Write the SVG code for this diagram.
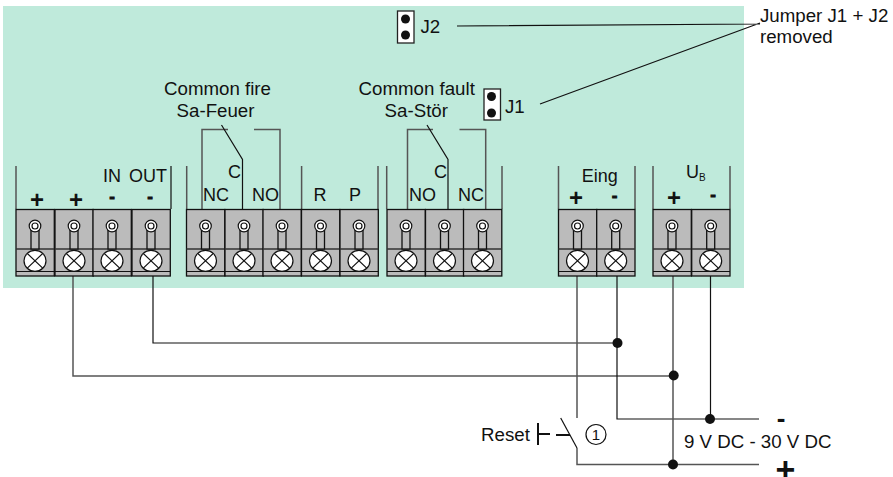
<svg xmlns="http://www.w3.org/2000/svg" xmlns:xlink="http://www.w3.org/1999/xlink" width="893" height="477" viewBox="0 0 893 477">
<style>
text{font-family:"Liberation Sans",Arial,sans-serif;font-size:18.700px;fill:#111}
.l{font-size:18px}
.m{text-anchor:middle}
.b{font-size:24px;font-weight:bold}
.n{font-size:17px;font-weight:bold;stroke:#111;stroke-width:0.800}
.w{fill:none;stroke:#111;stroke-width:1.2}
.g{fill:none;stroke:#555;stroke-width:1.5}
.f{fill:#bbb;stroke:#111;stroke-width:1.3}
.r{stroke:#333;stroke-width:1.5;fill:none}
.s{fill:#fff;stroke:#111;stroke-width:1.2}
.j{fill:#fff;stroke:#222;stroke-width:1.3}
</style>
<defs>
<g id="t">
<rect class="f" x="0" y="0" width="38.300" height="66.500"/>
<line class="r" x1="0" y1="39.500" x2="38.300" y2="39.500"/>
<line class="w" x1="0" y1="62" x2="38.300" y2="62"/>
<rect class="f" x="15" y="21" width="8" height="18.500"/>
<circle class="s" cx="19" cy="16.500" r="5.800"/>
<circle class="s" cx="19" cy="16.500" r="3"/>
<ellipse class="s" cx="19" cy="51.300" rx="11" ry="10.500"/>
<path class="w" d="M11.300 44 L26.700 58.600 M26.700 44 L11.300 58.600"/>
</g>
</defs>
<rect id="board" x="3" y="6" width="741" height="282" fill="#bfeadb"/>
<g id="connectors">
<path class="g" d="M16 166V209M186.700 166V209M202 209V129.500H228M254 129.500H280V209M301.600 166V209M378 166V209M386.700 166V209M407.500 209V129.500H433M459.500 129.500H485.700V209M502 166V209M558.500 166V209M635 166V209M653 166V209M730 166V209"/>
<path class="w" d="M171 166V209M242.500 209V159.500L221.500 125M448 209V159.500L427 125"/>
<path class="w" d="M457 26L760 24M540 104L760 23"/>
<path class="g" d="M73 276V376H674"/>
<path class="w" d="M153 276V343H618"/>
<path class="g" d="M577 276V418"/>
<path class="w" d="M617 276V419H759"/>
<path class="g" d="M673 276V464"/>
<path class="w" d="M710.500 276V419"/>
<path class="g" d="M577 448V464.500H759"/>
<path class="w" d="M560.700 418L577 448"/>
<path class="w" d="M556 435H570" style="stroke-width:2"/>
<path class="w" d="M538 423V445M538 434H550" style="stroke-width:2"/>
<circle cx="673.700" cy="375.500" r="5" fill="#111"/>
<circle cx="617.500" cy="343" r="5" fill="#111"/>
<circle cx="710" cy="419" r="5" fill="#111"/>
<circle cx="673" cy="464.500" r="5" fill="#111"/>
<circle cx="596" cy="434.500" r="10" fill="none" stroke="#111" stroke-width="1.200"/>
</g>
<g id="terminals-inout"><use xlink:href="#t" x="16" y="209.500"/><use xlink:href="#t" x="55" y="209.500"/><use xlink:href="#t" x="93" y="209.500"/><use xlink:href="#t" x="132" y="209.500"/></g>
<g id="terminals-fire"><use xlink:href="#t" x="186.500" y="209.500"/><use xlink:href="#t" x="225" y="209.500"/><use xlink:href="#t" x="263" y="209.500"/><use xlink:href="#t" x="301.500" y="209.500"/><use xlink:href="#t" x="340" y="209.500"/></g>
<g id="terminals-fault"><use xlink:href="#t" x="387" y="209.500"/><use xlink:href="#t" x="425.500" y="209.500"/><use xlink:href="#t" x="463.500" y="209.500"/></g>
<g id="terminals-eing"><use xlink:href="#t" x="558.500" y="209.500"/><use xlink:href="#t" x="596.700" y="209.500"/></g>
<g id="terminals-ub"><use xlink:href="#t" x="653" y="209.500"/><use xlink:href="#t" x="691.700" y="209.500"/></g>
<g id="j2"><rect class="j" x="397.500" y="11" width="16.500" height="32"/><circle cx="405.500" cy="19" r="4.500" fill="#111"/><circle cx="405.500" cy="35" r="4.500" fill="#111"/><text x="420.500" y="33">J2</text></g>
<g id="j1"><rect class="j" x="484" y="89" width="16.500" height="31"/><circle cx="491.500" cy="96.500" r="4.500" fill="#111"/><circle cx="491.500" cy="113" r="4.500" fill="#111"/><text x="505" y="113">J1</text></g>
<g id="labels">
<text class="m" x="217.500" y="95">Common fire</text>
<text class="m" x="215.500" y="117">Sa-Feuer</text>
<text class="m" x="416.700" y="95">Common fault</text>
<text class="m" x="416.300" y="117">Sa-Stör</text>
<text class="m b" x="37" y="208">+</text>
<text class="m b" x="76" y="208">+</text>
<text class="m n" x="112" y="201.500">-</text>
<text class="m n" x="150" y="201.500">-</text>
<text class="l" x="103" y="182">IN</text>
<text class="l" x="129" y="182">OUT</text>
<text class="m l" x="234.500" y="178">C</text>
<text class="l" x="203" y="201">NC</text>
<text class="l" x="252" y="201">NO</text>
<text class="m l" x="320" y="201">R</text>
<text class="m l" x="355" y="201">P</text>
<text class="m l" x="440.500" y="178">C</text>
<text class="l" x="409" y="201">NO</text>
<text class="l" x="458" y="201">NC</text>
<text class="l" x="581.700" y="182">Eing</text>
<text class="m b" x="576" y="206">+</text>
<text class="m n" x="614.500" y="201">-</text>
<text class="l" x="686" y="178">U<tspan font-size="10" dy="3">B</tspan></text>
<text class="m b" x="674" y="206">+</text>
<text class="m n" x="713" y="200">-</text>
<text x="760" y="22">Jumper J1 + J2</text>
<text x="760" y="43">removed</text>
<text x="481" y="441">Reset</text>
<text class="m" x="596" y="440" style="font-size:15px">1</text>
<text x="684" y="448">9 V DC - 30 V DC</text>
<text class="m b" x="781" y="427" style="font-size:26px">-</text>
<text class="m b" x="785.500" y="481" style="font-size:34px">+</text>
</g>
</svg>
